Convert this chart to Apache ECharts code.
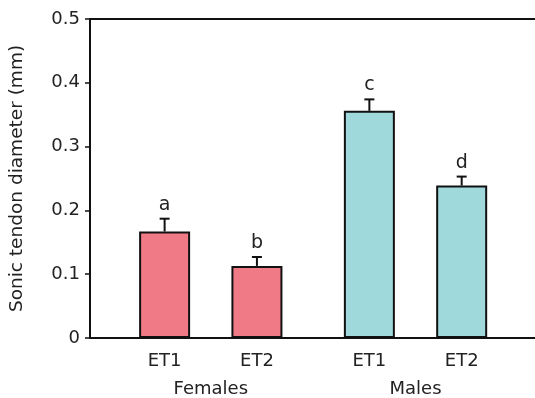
<!DOCTYPE html>
<html>
<head>
<meta charset="utf-8">
<script src="https://cdn.jsdelivr.net/npm/echarts@6/dist/echarts.min.js"></script>
<style>
html,body{margin:0;padding:0;background:#fff;}
#chart{width:535px;height:398px;}
</style>
</head>
<body>
<div id="chart"></div>
<script>
// ---- data ----
const groups = ['Females', 'Males'];
const treatments = ['ET1', 'ET2'];
const et1Values = [0.167, 0.356];
const et2Values = [0.113, 0.239];
const et1Errors = [0.020, 0.018];
const et2Errors = [0.014, 0.014];
const et1Letters = ['a', 'c'];
const et2Letters = ['b', 'd'];
const yAxisTitle = 'Sonic tendon diameter (mm)';

// ---- style ----
const FONT = 'DejaVu Sans';
const TXT = '#222';
const AX = '#111';
const barColors = ['#F07A85', '#A0D9DC'];
const BAR_W = 51;
const GAP = 0.81;
const half = BAR_W * (1 + GAP) / 2;

const chart = echarts.init(document.getElementById('chart'), null, {renderer: 'canvas'});

function errSeries(values, errors, letters, sign) {
  return {
    type: 'custom',
    xAxisIndex: 2, yAxisIndex: 1,
    z: 5,
    data: groups.map((g, i) => [i, values[i], values[i] + errors[i]]),
    renderItem: function (params, api) {
      const c = api.value(0);
      const b = api.coord([c, api.value(1)]);
      const t = api.coord([c, api.value(2)]);
      const x = b[0] + sign * half;
      const capW = 5;
      return {
        type: 'group',
        children: [
          {type: 'line', shape: {x1: x, y1: b[1], x2: x, y2: t[1]}, style: {stroke: AX, lineWidth: 2}},
          {type: 'line', shape: {x1: x - capW, y1: t[1], x2: x + capW, y2: t[1]}, style: {stroke: AX, lineWidth: 2}},
          {type: 'text', x: x, y: t[1] - 14, style: {text: letters[params.dataIndex], fill: TXT, font: '19px ' + FONT, align: 'center', verticalAlign: 'middle'}}
        ]
      };
    }
  };
}

function barSeries(name, values) {
  return {
    name: name,
    type: 'bar',
    xAxisIndex: 2, yAxisIndex: 1,
    barWidth: BAR_W,
    barGap: (GAP * 100) + '%',
    data: values.map((v, i) => ({value: v, itemStyle: {color: barColors[i]}})),
    itemStyle: {borderColor: AX, borderWidth: 2},
    label: {show: true, position: 'bottom', distance: 14, formatter: name, color: TXT, fontFamily: FONT, fontSize: 18},
    silent: true
  };
}

const option = {
  animation: false,
  backgroundColor: '#fff',
  grid: [
    {left: 87, right: 0, top: 19, bottom: 60},
    {left: 108.4, right: 17.1, top: 19, bottom: 60}
  ],
  xAxis: [
    {gridIndex: 0, type: 'value', min: 0, max: 1, position: 'bottom',
     axisLine: {show: true, onZero: false, lineStyle: {color: AX, width: 2}},
     axisTick: {show: false}, axisLabel: {show: false}, splitLine: {show: false}},
    {gridIndex: 0, type: 'value', min: 0, max: 1, position: 'top',
     axisLine: {show: true, onZero: false, lineStyle: {color: AX, width: 2}},
     axisTick: {show: false}, axisLabel: {show: false}, splitLine: {show: false}},
    {gridIndex: 1, type: 'category', data: groups,
     axisLine: {show: false}, axisTick: {show: false},
     axisLabel: {margin: 42, color: TXT, fontFamily: FONT, fontSize: 18}}
  ],
  yAxis: [
    {gridIndex: 0, type: 'value', min: 0, max: 0.5, interval: 0.1,
     name: yAxisTitle, nameLocation: 'middle', nameGap: 63,
     nameTextStyle: {color: TXT, fontFamily: FONT, fontSize: 18.5},
     axisLine: {show: true, lineStyle: {color: AX, width: 2}},
     axisTick: {show: true, length: 5, lineStyle: {color: AX, width: 1.5}},
     axisLabel: {margin: 10, color: TXT, fontFamily: FONT, fontSize: 18,
                 formatter: v => v === 0 ? '0' : v.toFixed(1)},
     splitLine: {show: false}},
    {gridIndex: 1, type: 'value', min: 0, max: 0.5, show: false}
  ],
  series: [
    barSeries(treatments[0], et1Values),
    barSeries(treatments[1], et2Values),
    errSeries(et1Values, et1Errors, et1Letters, -1),
    errSeries(et2Values, et2Errors, et2Letters, 1)
  ]
};
chart.setOption(option);
</script>
</body>
</html>
